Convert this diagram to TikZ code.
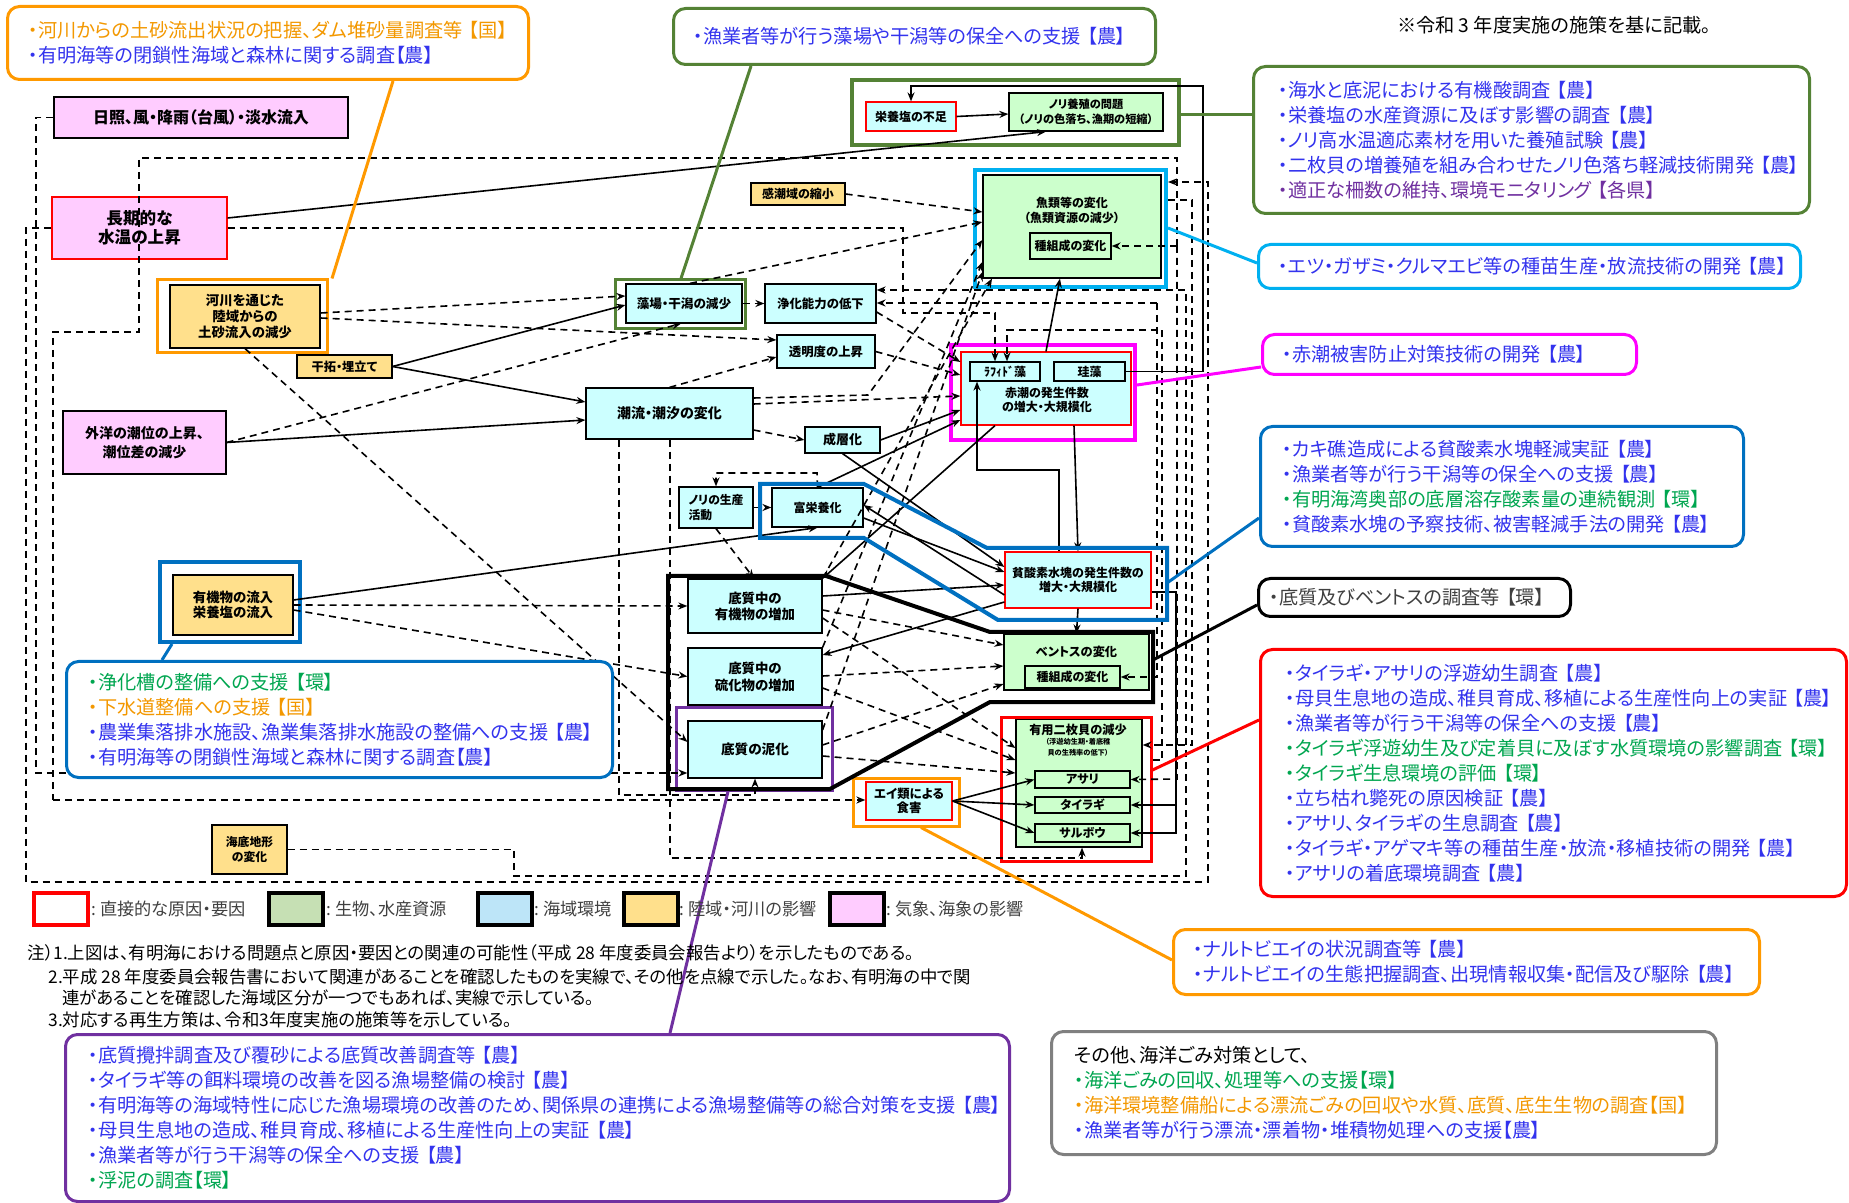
\documentclass[tikz,border=0pt]{standalone}
\usepackage{fontspec}
\setmainfont{Noto Sans CJK JP}[RawFeature=+palt]
\usetikzlibrary{arrows.meta}
\definecolor{cyanF}{HTML}{CCFFFF}
\definecolor{greenF}{HTML}{CCFFCC}
\definecolor{yellowF}{HTML}{FFE08C}
\definecolor{pinkF}{HTML}{FFCCFF}
\definecolor{lgGreen}{HTML}{C6E0B4}
\definecolor{lgCyan}{HTML}{BDE5F8}
\definecolor{oliveG}{HTML}{548235}
\definecolor{orangeC}{HTML}{FF9900}
\definecolor{cyanC}{HTML}{00B0F0}
\definecolor{magC}{HTML}{FF00FF}
\definecolor{blueC}{HTML}{0070C0}
\definecolor{purpleC}{HTML}{7030A0}
\definecolor{grayC}{HTML}{808080}
\definecolor{tBlue}{HTML}{3333EE}
\definecolor{tGreen}{HTML}{00A650}
\definecolor{tOrange}{HTML}{F39800}
\definecolor{tPurple}{HTML}{7030A0}
\definecolor{tGray}{HTML}{404040}
\begin{document}
\begin{tikzpicture}[x=0.5pt,y=-0.5pt,
  nb/.style={draw=black, line width=0.6pt, inner sep=0pt, align=center, text=black},
  cy/.style={nb, fill=cyanF},
  gr/.style={nb, fill=greenF},
  ye/.style={nb, fill=yellowF},
  pk/.style={nb, fill=pinkF},
  sz/.style 2 args={minimum width={(#1)*0.5pt}, minimum height={(#2)*0.5pt}},
  fs/.style 2 args={font=\bfseries\fontsize{#1}{#2}\selectfont},
  fr/.style={draw, inner sep=0pt, line width=1.5pt},
  co/.style={rounded corners=6pt, line width=1.5pt, fill=white, align=left, inner ysep=0pt, anchor=north west, font=\fontsize{9.6}{12.5}\selectfont},
  sl/.style={draw=black, line width=0.8pt, -{Stealth[length=4.5pt,width=3.5pt]}},
  dl/.style={sl, dash pattern=on 3.5pt off 2.5pt},
  ln/.style={draw=black, line width=0.8pt, dash pattern=on 3.5pt off 2.5pt},
  cl/.style={line width=1.5pt},
  lgb/.style={draw=black, line width=2pt, inner sep=0pt, minimum width=27pt, minimum height=16pt},
  lgt/.style={anchor=west, inner sep=0pt, text=tGray, font=\fontsize{8.6}{10}\selectfont}
]
\useasboundingbox (0,0) rectangle (1849,1203);

% ---------------- boxes ----------------
\node[pk, sz={294}{41}, fs={8}{10}] (nissho) at (201,117.5) {日照、風・降雨（台風）・淡水流入};
\node[pk, draw=red, sz={175}{62}, fs={8.3}{9.5}] (choki) at (139.5,228) {長期的な\\水温の上昇};
\node[pk, sz={163}{63}, fs={7}{9.5}] (gaiyo) at (144.5,442.5) {外洋の潮位の上昇、\\潮位差の減少};
\node[ye, sz={150}{63}, fs={6.7}{8}] (kasen) at (245,316.5) {河川を通じた\\陸域からの\\土砂流入の減少};
\node[ye, sz={95}{23}, fs={6.1}{7}] (kantaku) at (344.5,366.5) {干拓・埋立て};
\node[ye, sz={120}{60}, fs={6.7}{7.8}] (ryunyu) at (233,605) {有機物の流入\\栄養塩の流入};
\node[ye, sz={75}{49}, fs={5.9}{7.5}] (kaitei) at (249.5,849.5) {海底地形\\の変化};
\node[ye, sz={94}{22}, fs={6}{7}] (kanchou) at (798,194) {感潮域の縮小};
\node[cy, draw=red, sz={90}{29}, fs={6}{7}] (eiyo) at (911,116.5) {栄養塩の不足};
\node[gr, sz={154}{38}, fs={5.6}{7.5}] (nori) at (1086,112) {ノリ養殖の問題\\（ノリの色落ち、漁期の短縮）};
\node[gr, sz={178}{103}] (gyorui) at (1072,226.5) {};
\node[fs={6}{7.5}, align=center, inner sep=0pt] (gyoruiT) at (1072,210) {魚類等の変化\\（魚類資源の減少）};
\node[gr, sz={81}{26}, fs={6}{7}] (shusei1) at (1070.5,246) {種組成の変化};
\node[cy, sz={116}{39}, fs={6.3}{7}] (moba) at (684,303.5) {藻場・干潟の減少};
\node[cy, sz={111}{39}, fs={6.2}{7}] (jouka) at (820.5,303.5) {浄化能力の低下};
\node[cy, sz={98}{33}, fs={6.2}{7}] (toumei) at (826,351.5) {透明度の上昇};
\node[cy, sz={167}{51}, fs={7}{8}] (chouryu) at (669.5,413.5) {潮流・潮汐の変化};
\node[cy, sz={75}{26}, fs={6.5}{7}] (seisou) at (842.5,440) {成層化};
\node[cy, draw=red, sz={170}{73}] (akashio) at (1046,388.5) {};
\node[fs={6}{7}, align=center, inner sep=0pt] (akashioT) at (1047,400) {赤潮の発生件数\\の増大・大規模化};
\node[cy, sz={70}{19}, fs={6}{7}] (raphid) at (1005,371.5) {ﾗﾌｨﾄﾞ藻};
\node[cy, sz={71}{19}, fs={6}{7}] (keisou) at (1089.5,371.5) {珪藻};
\node[cy, sz={74}{41}, fs={5.9}{7.5}, align=left] (norisei) at (716,507.5) {ノリの生産\\活動};
\node[cy, sz={91}{39}, fs={6}{7}] (fueiyo) at (817.5,507.5) {富栄養化};
\node[cy, draw=red, sz={146}{56}, fs={6}{7}] (hinsanso) at (1078,580) {貧酸素水塊の発生件数の\\増大・大規模化};
\node[cy, sz={134}{54}, fs={6.7}{8}] (yukizo) at (755,606) {底質中の\\有機物の増加};
\node[cy, sz={134}{57}, fs={6.7}{8.5}] (ryuka) at (755,676.5) {底質中の\\硫化物の増加};
\node[cy, sz={134}{57}, fs={6.8}{8}] (deika) at (755,749.5) {底質の泥化};
\node[gr, sz={145}{56}] (benthos) at (1076.5,662) {};
\node[fs={6.1}{7}, inner sep=0pt] (benthosT) at (1076.5,652) {ベントスの変化};
\node[gr, sz={95}{22}, fs={6}{7}] (shusei2) at (1072.5,677) {種組成の変化};
\node[gr, sz={126}{128}] (nimai) at (1079,783) {};
\node[fs={6.1}{7}, inner sep=0pt] (nimaiT) at (1078,730) {有用二枚貝の減少};
\node[font=\bfseries\fontsize{3.6}{5.5}\selectfont, align=center, inner sep=0pt] (nimaiS) at (1078,747.5) {（浮遊幼生期・着底稚\\貝の生残率の低下）};
\node[gr, sz={95}{17}, fs={6}{7}] (asari) at (1082.5,779.5) {アサリ};
\node[gr, sz={95}{16}, fs={6}{7}] (tairagi) at (1082.5,805) {タイラギ};
\node[gr, sz={95}{18}, fs={6}{7}] (saru) at (1082.5,833) {サルボウ};
\node[cy, draw=red, sz={86}{38}, fs={6.2}{6.8}] (ei) at (909,801) {エイ類による\\食害};

% ---------------- highlight frames ----------------
\node[fr, draw=orangeC, sz={170}{73}] (kasenF) at (242,316.5) {};
\node[fr, draw=blueC, line width=2pt, sz={140}{80}] (ryunyuF) at (230,602) {};
\node[fr, draw=oliveG, line width=2pt, sz={327}{65}] (noriF) at (1015.5,112.5) {};
\node[fr, draw=cyanC, line width=2pt, sz={191}{117}] (gyoruiF) at (1070.5,228.5) {};
\node[fr, draw=oliveG, sz={130}{49}] (mobaF) at (680,304.5) {};
\node[fr, draw=magC, line width=2pt, sz={184}{95}] (akashioF) at (1043,392.5) {};
\node[fr, draw=purpleC, sz={156}{83}] (deikaF) at (754,748.5) {};
\node[fr, draw=red, sz={150}{144}] (nimaiF) at (1076,789) {};
\node[fr, draw=orangeC, sz={106}{48}] (eiF) at (906,802) {};

% ---------------- long dashed loops ----------------
\draw[dl] (nissho.west) -- (36,117.5) -- (36,773) -- (deika.west |- 0,773);
\draw[dl] (choki.west) -- (26,228) -- (26,882) -- (1208,882) -- (1208,182) -- (gyoruiF.east |- 0,182);
\draw[dl] (choki.east |- 0,228) -- (903,228) -- (903,313) -- (995,313) -- (raphid.north -| 995,0);
\coordinate (r77) at (1177,246);
\coordinate (r53) at (53,800);
\draw[ln] (r77) -- (1177,158) -- (139,158) -- (139,332) -- (53,332) -- (r53);
\draw[dl] (r53) -- (ei.west |- 0,800);
\draw[dl] (r77) -- (shusei1.east);
\draw[dl] (r77) -- (1177,779) -- (asari.east);
\draw[dl] (kaitei.east) -- (514,849.5) -- (514,876) -- (1186,876) -- (1186,290) -- (jouka.east |- 0,290);
\coordinate (r57) at (1157,303);
\draw[dl] (r57) -- (jouka.east |- 0,303);
\draw[dl] (r57) -- (1157,677) -- (shusei2.east);
\draw[dl] (nimaiF.east |- 0,760) -- (1162,760) -- (1162,330) -- (1007,330) -- (raphid.north -| 1007,0);
\draw[dl] (gyoruiF.east |- 0,200) -- (1192,200) -- (1192,745) -- (nimai.east |- 0,745);

% ---------------- solid connectors ----------------
\draw[sl] (choki.east |- 0,218) -- (nori.south -| 1046,0);
\draw[sl] (eiyo.east) -- (nori.west |- 0,114);
\draw[sl] (keisou.east) -- (1203,371.5) -- (1203,86) -- (911,86) -- (eiyo.north);
\draw[sl] (kantaku.east) -- (moba.west |- 0,305);
\draw[sl] (kantaku.east) -- (chouryu.west |- 0,402);
\draw[sl] (gaiyo.east) -- (chouryu.west |- 0,420);
\draw[sl] (seisou.east) -- (akashio.west |- 0,410);
\draw[sl] (seisou.south) -- (hinsanso.west |- 0,567);
\draw[sl] (fueiyo.north) -- (akashio.west |- 0,420);
\draw[sl] (ryunyu.east |- 0,600) -- (fueiyo.south);
\draw[sl] (akashio.north -| 1046,0) -- (gyorui.south -| 1060,0);
\draw[sl] (akashio.south -| 1074,0) -- (hinsanso.north -| 1078,0);
\draw[sl] (hinsanso.north -| 1059,0) -- (1059,470) -- (977,470) -- (raphid.south -| 977,0);
\draw[sl] (akashio.south -| 995,0) -- (yukizo.north east);
\draw[sl] (fueiyo.east |- 0,518) -- (hinsanso.west |- 0,572);
\draw[sl] (hinsanso.west |- 0,595) -- (fueiyo.east |- 0,505);
\draw[sl] (yukizo.east |- 0,596) -- (hinsanso.west |- 0,585);
\draw[sl] (hinsanso.west |- 0,602) -- (ryuka.east |- 0,655);
\draw[sl] (hinsanso.south) -- (benthos.north);
\draw[sl] (ei.east) -- (asari.west);
\draw[sl] (ei.east) -- (tairagi.west);
\draw[sl] (ei.east) -- (saru.west);
\coordinate (j76) at (1176,805);
\draw[sl] (hinsanso.east |- 0,592) -- (1176,592) -- (1176,833) -- (saru.east);
\draw[sl] (j76) -- (tairagi.east);

% ---------------- dashed connectors ----------------
\draw[dl] (kasen.east |- 0,313) -- (moba.west |- 0,296);
\draw[dl] (kasen.east |- 0,318) -- (toumei.west |- 0,340);
\draw[dl] (gaiyo.east) -- (moba.south -| 681,0);
\draw[dl] (chouryu.north) -- (toumei.west |- 0,357);
\draw[dl] (moba.east) -- (jouka.west);
\draw[dl] (jouka.east |- 0,312) -- (akashio.west |- 0,362);
\draw[dl] (toumei.east) -- (akashio.west |- 0,375);
\draw[dl] (chouryu.east |- 0,404) -- (akashio.west |- 0,396);
\draw[dl] (chouryu.east |- 0,398) -- (868,395) -- (gyorui.west |- 0,240);
\draw[dl] (chouryu.east |- 0,430) -- (seisou.west);
\draw[dl] (chouryu.south -| 619,0) -- (619,795) -- (755,795) -- (deika.south);
\draw[dl] (chouryu.south -| 670,0) -- (670,858) -- (1082,858) -- (nimai.south -| 1082,0);
\draw[dl] (kasen.south) -- (deika.west |- 0,742);
\draw[dl] (ryunyu.east) -- (yukizo.west);
\draw[dl] (ryunyu.east |- 0,610) -- (ryuka.west);
\draw[dl] (norisei.south) -- (yukizo.north -| 754,0);
\draw[dl] (fueiyo.north) -- (817,473) -- (716,473) -- (norisei.north);
\draw[dl] (norisei.east) -- (fueiyo.west);
\draw[dl] (yukizo.east |- 0,610) -- (benthos.west |- 0,645);
\draw[dl] (ryuka.east |- 0,676) -- (benthos.west |- 0,666);
\draw[dl] (deika.east |- 0,745) -- (benthos.west |- 0,684);
\draw[dl] (yukizo.east |- 0,618) -- (nimai.west |- 0,748);
\draw[dl] (ryuka.east |- 0,688) -- (nimai.west |- 0,760);
\draw[dl] (deika.east |- 0,756) -- (nimai.west |- 0,773);
\draw[dl] (kanchou.east) -- (gyorui.west |- 0,212);
\draw[dl] (moba.north -| 690,0) -- (gyorui.west |- 0,222);
\draw[dl] (yukizo.north east) -- (gyorui.south -| 992,0);
\draw[dl] (ryuka.north east) -- (gyorui.west |- 0,262);
\draw[dl] (deika.east |- 0,730) -- (gyorui.west |- 0,272);

% ---------------- group outlines ----------------
\draw[blueC, line width=2pt] (760,484) -- (864,484) -- (987,548) -- (1167,548) -- (1167,620) -- (998,620) -- (864,538) -- (760,538) -- cycle;
\draw[black, line width=2pt] (668,576) -- (826,576) -- (990,632) -- (1153,632) -- (1153,702) -- (990,702) -- (830,789) -- (668,789) -- cycle;
\coordinate (bp) at (1167,583);
\coordinate (kp) at (1153,660);

% ---------------- callouts ----------------
\node[co, draw=orangeC, minimum width=260.5pt, minimum height=36.5pt, inner xsep=10.5pt, text width=239.5pt] (c1) at (6,5)
 {\color{tOrange}・河川からの土砂流出状況の把握、ダム堆砂量調査等~【国】\\\color{tBlue}・有明海等の閉鎖性海域と森林に関する調査【農】};
\node[co, draw=oliveG, minimum width=241pt, minimum height=28pt, inner xsep=10pt, text width=221pt] (c2) at (672,7)
 {\color{tBlue}・漁業者等が行う藻場や干潟等の保全への支援~【農】};
\node[co, draw=oliveG, minimum width=278pt, minimum height=73.5pt, inner xsep=12.5pt, text width=253pt] (c3) at (1252,65)
 {\color{tBlue}・海水と底泥における有機酸調査~【農】\\
  \color{tBlue}・栄養塩の水産資源に及ぼす影響の調査~【農】\\
  \color{tBlue}・ノリ高水温適応素材を用いた養殖試験~【農】\\
  \color{tBlue}・二枚貝の増養殖を組み合わせたノリ色落ち軽減技術開発~【農】\\
  \color{tPurple}・適正な柵数の維持、環境モニタリング~【各県】};
\node[co, draw=cyanC, minimum width=271pt, minimum height=22pt, inner xsep=10pt, text width=251pt] (c4) at (1257,243)
 {\color{tBlue}・エツ・ガザミ・クルマエビ等の種苗生産・放流技術の開発~【農】};
\node[co, draw=magC, minimum width=187pt, minimum height=20pt, inner xsep=10pt, text width=167pt] (c5) at (1261,333)
 {\color{tBlue}・赤潮被害防止対策技術の開発~【農】};
\node[co, draw=blueC, minimum width=241.5pt, minimum height=60pt, inner xsep=11pt, text width=219.5pt] (c6) at (1259,425)
 {\color{tBlue}・カキ礁造成による貧酸素水塊軽減実証~【農】\\
  \color{tBlue}・漁業者等が行う干潟等の保全への支援~【農】\\
  \color{tGreen}・有明海湾奥部の底層溶存酸素量の連続観測~【環】\\
  \color{tBlue}・貧酸素水塊の予察技術、被害軽減手法の開発~【農】};
\node[co, draw=black, minimum width=156pt, minimum height=19pt, inner xsep=5.5pt, text width=145pt] (c7) at (1257,577)
 {\color{tGray}・底質及びベントスの調査等~【環】};
\node[co, draw=red, minimum width=293pt, minimum height=123.5pt, inner xsep=12.5pt, text width=268pt] (c8) at (1259,648)
 {\color{tBlue}・タイラギ・アサリの浮遊幼生調査~【農】\\
  \color{tBlue}・母貝生息地の造成、稚貝育成、移植による生産性向上の実証~【農】\\
  \color{tBlue}・漁業者等が行う干潟等の保全への支援~【農】\\
  \color{tGreen}・タイラギ浮遊幼生及び定着貝に及ぼす水質環境の影響調査~【環】\\
  \color{tGreen}・タイラギ生息環境の評価~【環】\\
  \color{tBlue}・立ち枯れ斃死の原因検証~【農】\\
  \color{tBlue}・アサリ、タイラギの生息調査~【農】\\
  \color{tBlue}・タイラギ・アゲマキ等の種苗生産・放流・移植技術の開発~【農】\\
  \color{tBlue}・アサリの着底環境調査~【農】};
\node[co, draw=orangeC, minimum width=293pt, minimum height=32.5pt, inner xsep=10pt, text width=273pt] (c9) at (1172,928)
 {\color{tBlue}・ナルトビエイの状況調査等~【農】\\
  \color{tBlue}・ナルトビエイの生態把握調査、出現情報収集・配信及び駆除~【農】};
\node[co, draw=grayC, minimum width=332.5pt, minimum height=61.5pt, inner xsep=11.5pt, text width=309.5pt] (c10) at (1050,1030)
 {\color{black}その他、海洋ごみ対策として、\\
  \color{tGreen}・海洋ごみの回収、処理等への支援【環】\\
  \color{tOrange}・海洋環境整備船による漂流ごみの回収や水質、底質、底生生物の調査【国】\\
  \color{tBlue}・漁業者等が行う漂流・漂着物・堆積物処理への支援【農】};
\node[co, draw=blueC, minimum width=273pt, minimum height=58pt, inner xsep=11pt, text width=251pt] (c11) at (65,660)
 {\color{tGreen}・浄化槽の整備への支援~【環】\\
  \color{tOrange}・下水道整備への支援~【国】\\
  \color{tBlue}・農業集落排水施設、漁業集落排水施設の整備への支援~【農】\\
  \color{tBlue}・有明海等の閉鎖性海域と森林に関する調査【農】};
\node[co, draw=purpleC, minimum width=472pt, minimum height=83.5pt, inner xsep=11.5pt, text width=449pt] (c12) at (64,1033)
 {\color{tBlue}・底質攪拌調査及び覆砂による底質改善調査等~【農】\\
  \color{tBlue}・タイラギ等の餌料環境の改善を図る漁場整備の検討~【農】\\
  \color{tBlue}・有明海等の海域特性に応じた漁場環境の改善のため、関係県の連携による漁場整備等の総合対策を支援~【農】\\
  \color{tBlue}・母貝生息地の造成、稚貝育成、移植による生産性向上の実証~【農】\\
  \color{tBlue}・漁業者等が行う干潟等の保全への支援~【農】\\
  \color{tGreen}・浮泥の調査【環】};

% callout leaders
\begin{scope}[on background layer/.style={}]
\end{scope}
\draw[orangeC, cl] (c1.south -| 393,0) -- (kasenF.north -| 332,0);
\draw[oliveG, cl] (c2.south -| 751,0) -- (mobaF.north -| 681,0);
\draw[oliveG, cl] (noriF.east |- 0,115) -- (c3.west |- 0,115);
\draw[cyanC, cl] (gyoruiF.east |- 0,228) -- (c4.west |- 0,263);
\draw[magC, cl] (akashioF.east |- 0,385) -- (c5.west |- 0,367);
\draw[blueC, cl] (bp) -- (c6.west |- 0,518);
\draw[black, cl] (kp) -- (c7.west |- 0,605);
\draw[red, cl] (nimaiF.east |- 0,770) -- (c8.west |- 0,720);
\draw[orangeC, cl] (eiF.south -| 921,0) -- (c9.west |- 0,960);
\draw[blueC, cl] (ryunyuF.south -| 172,0) -- (c11.north -| 162,0);
\draw[purpleC, cl] (deikaF.south -| 728,0) -- (c12.north -| 670,0);

% ---------------- legend ----------------
\node[lgb, draw=red] (lg1) at (61,909) {};
\node[lgt] (lg1t) at (91,909) {:~直接的な原因・要因};
\node[lgb, fill=lgGreen] (lg2) at (296,909) {};
\node[lgt] (lg2t) at (326,909) {:~生物、水産資源};
\node[lgb, fill=lgCyan] (lg3) at (505,909) {};
\node[lgt] (lg3t) at (534,909) {:~海域環境};
\node[lgb, fill=yellowF] (lg4) at (650.5,909) {};
\node[lgt] (lg4t) at (679,909) {:~陸域・河川の影響};
\node[lgb, fill=pinkF] (lg5) at (856.5,909) {};
\node[lgt] (lg5t) at (886,909) {:~気象、海象の影響};

% ---------------- notes ----------------
\node[font=\fontsize{9.6}{11}\selectfont, inner sep=0pt] (topnote) at (1554,25) {※令和 3 年度実施の施策を基に記載。};
\node[anchor=west, inner sep=0pt, font=\fontsize{8.7}{10}\selectfont] (n1) at (27,953) {注）1.上図は、有明海における問題点と原因・要因との関連の可能性（平成 28 年度委員会報告より）を示したものである。};
\node[anchor=west, inner sep=0pt, font=\fontsize{8.7}{10}\selectfont] (n2) at (48,977) {2.平成 28 年度委員会報告書において関連があることを確認したものを実線で、その他を点線で示した。なお、有明海の中で関};
\node[anchor=west, inner sep=0pt, font=\fontsize{8.7}{10}\selectfont] (n3) at (62,998) {連があることを確認した海域区分が一つでもあれば、実線で示している。};
\node[anchor=west, inner sep=0pt, font=\fontsize{8.7}{10}\selectfont] (n4) at (48,1020) {3.対応する再生方策は、令和3年度実施の施策等を示している。};
\end{tikzpicture}
\end{document}
